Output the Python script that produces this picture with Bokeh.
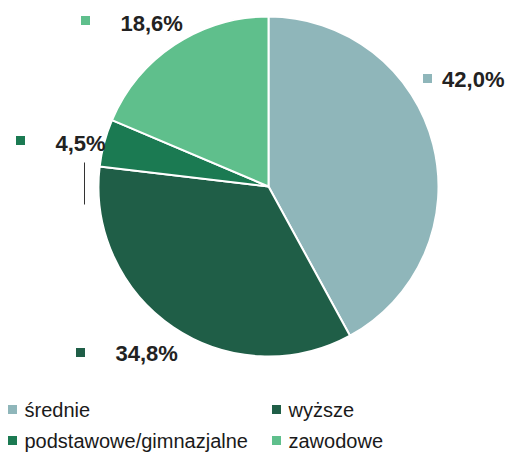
from bokeh.plotting import figure
from bokeh.models import Range1d, ColumnDataSource
from bokeh.core.properties import value
from bokeh.embed import file_html
from bokeh.resources import INLINE
import numpy as np

categories = ["średnie", "wyższe", "podstawowe/gimnazjalne", "zawodowe"]
shares = [42.0, 34.8, 4.5, 18.6]
labels = ["42,0%", "34,8%", "4,5%", "18,6%"]
colors = ["#8fb6ba", "#1f5e47", "#1b7a52", "#5fbf8c"]

W, H = 506, 452
p = figure(width=W, height=H, output_backend="svg", toolbar_location=None,
           x_range=Range1d(0, W), y_range=Range1d(0, H),
           min_border=0)
p.axis.visible = False
p.grid.visible = False
p.outline_line_color = None
p.background_fill_color = "white"

def Y(py):
    return H - py

cx, cy, r = 268, Y(186), 170
frac = np.array(shares) / sum(shares)
cum = np.concatenate([[0], np.cumsum(frac)])
start = np.pi / 2 - cum[1:] * 2 * np.pi
end = np.pi / 2 - cum[:-1] * 2 * np.pi
src = ColumnDataSource(dict(start=start, end=end, color=colors))
p.wedge(x=cx, y=cy, radius=r, start_angle="start", end_angle="end",
        fill_color="color", line_color="white", line_width=2, source=src)

# data labels with markers (pixel positions)
lab_x = [504, 115, 55, 120]
lab_y = [79, 353, 143, 23]
lab_align = ["right", "left", "left", "left"]
mk_x = [427, 80, 20, 85]
mk_y = [78, 352, 140, 20]
p.scatter(x=mk_x, y=[Y(v) for v in mk_y], marker="square", size=9,
          fill_color=colors, line_color=None)
lsrc = ColumnDataSource(dict(x=lab_x, y=[Y(v) for v in lab_y], t=labels, a=lab_align))
p.text(x="x", y="y", text="t", text_align="a", source=lsrc,
       text_font=value("Liberation Sans"), text_font_style="bold",
       text_font_size="22px", text_color="#222222",
       text_baseline="middle")

# leader line
p.segment(x0=[84], y0=[Y(162)], x1=[84], y1=[Y(204)], line_color="#333333", line_width=1)

# legend
leg_mx = [12, 276, 12, 276]
leg_my = [409, 409, 440, 440]
leg_order = [0, 1, 2, 3]
p.scatter(x=leg_mx, y=[Y(v) for v in leg_my], marker="square", size=9,
          fill_color=[colors[i] for i in leg_order], line_color=None)
p.text(x=[m + 12 for m in leg_mx], y=[Y(v) for v in leg_my],
       text=[categories[i] for i in leg_order],
       text_font=value("Liberation Sans"), text_font_size="20px",
       text_color="#1a1a1a", text_baseline="middle", text_align="left")

open("out.html", "w").write(file_html(p, INLINE))
